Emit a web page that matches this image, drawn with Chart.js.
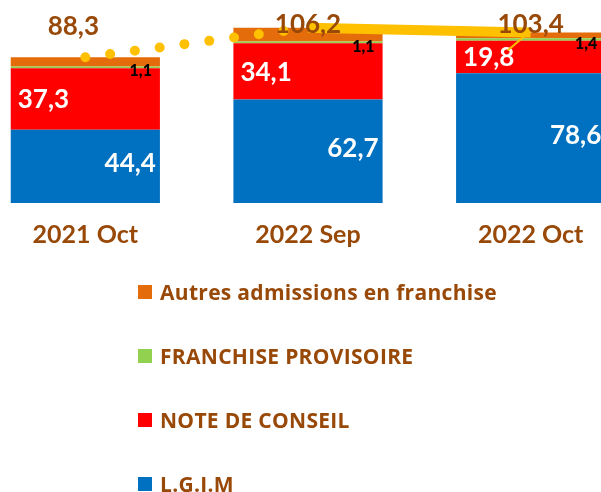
<!DOCTYPE html>
<html>
<head>
<meta charset="utf-8">
<script src="https://cdn.jsdelivr.net/npm/chart.js@4"></script>
<style>
  html, body { margin: 0; padding: 0; background: #fff; width: 601px; height: 492px; overflow: hidden; }
  #wrap { position: relative; width: 601px; height: 492px; overflow: hidden; }
  #c { position: absolute; left: -52px; top: 0; }
  #legend { position: absolute; left: 0; top: 0; width: 601px; height: 492px; font-family: "Open Sans", Lato, sans-serif; }
  .lg-box { position: absolute; left: 138px; width: 14px; height: 14px; }
  .lg-txt { position: absolute; left: 160px; font-weight: 700; font-size: 21px; letter-spacing: 0.3px; line-height: 24px; color: #984807; white-space: nowrap; }
</style>
</head>
<body>
<div id="wrap">
  <canvas id="c" width="720" height="259"></canvas>
  <div id="legend"></div>
</div>
<script>
// ---- data ----
const categories = ['2021 Oct', '2022 Sep', '2022 Oct'];
const lgim = [44.4, 62.7, 78.6];
const noteConseil = [37.3, 34.1, 19.8];
const franchiseProvisoire = [1.1, 1.1, 1.4];
const autresAdmissions = [5.5, 8.3, 3.6];
const totals = [88.3, 106.2, 103.4];
const seriesNames = ['L.G.I.M', 'NOTE DE CONSEIL', 'FRANCHISE PROVISOIRE', 'Autres admissions en franchise'];

// ---- styles ----
const COLORS = ['#0070C0', '#FF0000', '#92D050', '#E46C0A'];
const BROWN = '#984807';
const GOLD = '#FFC000';
const FONT = 'Lato, "Open Sans", sans-serif';
// label offsets for the total labels (px, relative to point)
const totalLabelOffsets = [[-12, -31], [0, -3], [0, -8]];

const fmt = v => String(v).replace('.', ',');

const barSeries = [lgim, noteConseil, franchiseProvisoire, autresAdmissions];
const barDatasets = barSeries.map((d, i) => ({
  type: 'bar',
  label: seriesNames[i],
  data: d,
  backgroundColor: COLORS[i],
  borderWidth: 0,
  stack: 'bars',
  order: 2,
  barPercentage: 0.67,
  categoryPercentage: 1.0
}));

const dottedTotals = totals.map((v, i) => (i <= 1 ? v : null));
const solidTotals = totals.map((v, i) => (i >= 1 ? v : null));

const lineDatasets = [
  {
    type: 'line', label: 'total-a', data: dottedTotals, stack: 't1', order: 0,
    borderColor: GOLD, borderWidth: 10, borderDash: [0, 25], borderCapStyle: 'round',
    pointRadius: 0, fill: false, spanGaps: false
  },
  {
    type: 'line', label: 'total-b', data: solidTotals, stack: 't2', order: 0,
    borderColor: GOLD, borderWidth: 10, borderCapStyle: 'butt',
    pointRadius: 0, fill: false, spanGaps: false
  }
];

const labelPlugin = {
  id: 'labels',
  afterDatasetsDraw(chart) {
    const ctx = chart.ctx;
    ctx.save();
    // bar labels
    barDatasets.forEach((ds, di) => {
      const meta = chart.getDatasetMeta(di);
      meta.data.forEach((el, i) => {
        const v = ds.data[i];
        const left = el.x - el.width / 2, right = el.x + el.width / 2;
        const mid = (el.y + el.base) / 2;
        if (di === 0) {
          ctx.font = `700 26px ${FONT}`; ctx.fillStyle = '#fff';
          ctx.textAlign = 'right'; ctx.textBaseline = 'middle';
          ctx.fillText(fmt(v), right - 4, mid - 3);
        } else if (di === 1) {
          ctx.font = `700 26px ${FONT}`; ctx.fillStyle = '#fff';
          ctx.textAlign = 'left'; ctx.textBaseline = 'middle';
          ctx.fillText(fmt(v), left + 7, mid + 1);
        } else if (di === 2) {
          ctx.font = `900 16px ${FONT}`; ctx.fillStyle = '#000';
          ctx.textAlign = 'right'; ctx.textBaseline = 'middle';
          ctx.fillText(fmt(v), right - 8, mid + 4);
        }
      });
    });
    // totals
    const metaA = chart.getDatasetMeta(barDatasets.length);
    const metaB = chart.getDatasetMeta(barDatasets.length + 1);
    totals.forEach((v, i) => {
      const el = i <= 1 ? metaA.data[i] : metaB.data[i];
      if (i === 2) {
        // leader line of the last total label
        ctx.strokeStyle = GOLD; ctx.lineWidth = 2;
        ctx.beginPath(); ctx.moveTo(el.x - 2, el.y); ctx.lineTo(el.x - 23, el.y + 18); ctx.stroke();
      }
      const [dx, dy] = totalLabelOffsets[i];
      ctx.font = `700 26px ${FONT}`; ctx.fillStyle = BROWN;
      ctx.textAlign = 'center'; ctx.textBaseline = 'middle';
      ctx.fillText(fmt(v), el.x + dx, el.y + dy);
    });
    ctx.restore();
  }
};

const chart = new Chart(document.getElementById('c'), {
  data: { labels: categories, datasets: [...barDatasets, ...lineDatasets] },
  options: {
    responsive: false,
    animation: false,
    layout: { padding: { left: 26, right: 26, top: 5, bottom: 0 } },
    plugins: { legend: { display: false }, tooltip: { enabled: false } },
    scales: {
      x: {
        stacked: true,
        grid: { display: false }, border: { display: false },
        ticks: { font: { family: FONT, size: 25, weight: '700' }, color: BROWN, padding: 9 }
      },
      y: { stacked: true, display: false, min: 0, max: 120 }
    }
  },
  plugins: [labelPlugin]
});

// HTML legend built from the bar datasets (reverse order)
const legendEl = document.getElementById('legend');
const rows = chart.data.datasets.filter(d => d.type === 'bar').slice().reverse();
rows.forEach((d, k) => {
  const cy = 292 + 64 * k;
  const box = document.createElement('div');
  box.className = 'lg-box';
  box.style.top = (cy - 7) + 'px';
  box.style.background = d.backgroundColor;
  const t = document.createElement('div');
  t.className = 'lg-txt';
  t.style.top = (cy - 12) + 'px';
  t.textContent = d.label;
  legendEl.appendChild(box);
  legendEl.appendChild(t);
});
</script>
</body>
</html>
